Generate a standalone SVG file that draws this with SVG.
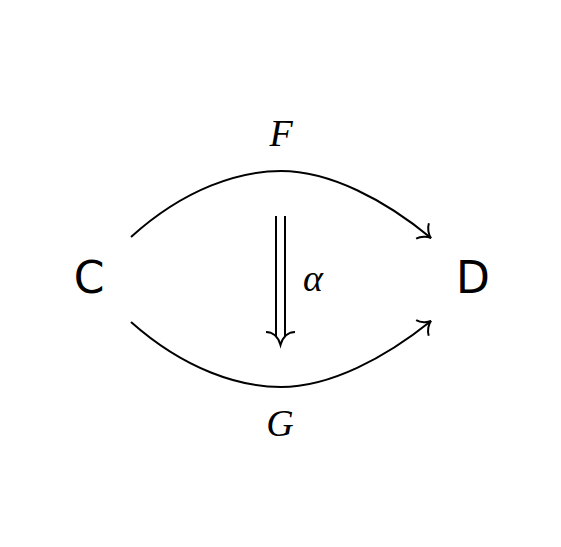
<svg xmlns="http://www.w3.org/2000/svg" width="561" height="547" viewBox="0 0 561 547">
<style>
.obj{font-family:"DejaVu Sans","Liberation Sans",sans-serif;font-size:44px;fill:#000;text-anchor:middle}
.lbl{font-family:"Liberation Serif","DejaVu Serif",serif;font-style:italic;font-size:38px;fill:#000;text-anchor:middle}
.ln{fill:none;stroke:#000;stroke-width:2}
</style>
<defs>
<marker id="to" viewBox="-14 -12 16 24" markerWidth="16" markerHeight="24" refX="0" refY="0" orient="auto" markerUnits="userSpaceOnUse">
<path d="M-11,-10 C-9,-5 -4,-1 0,0 C-4,1 -9,5 -11,10" fill="none" stroke="#000" stroke-width="2"/>
</marker>
</defs>
<rect width="561" height="547" fill="#fff"/>
<g id="node-C"><text class="obj" x="89" y="293">C</text></g>
<g id="node-D"><text class="obj" x="473" y="293">D</text></g>
<g id="connectors">
<path id="F" class="ln" d="M131,237 C185,188 240,171 281,171 C330,171 385,200 431,238" marker-end="url(#to)"/>
<path id="G" class="ln" d="M131,322 C185,370 240,387 281,387 C330,387 385,358 431,321" marker-end="url(#to)"/>
<g id="alpha">
<line class="ln" x1="276" y1="216" x2="276" y2="336"/>
<line class="ln" x1="285" y1="216" x2="285" y2="336"/>
<path class="ln" d="M266,332 C272,332 278,336 280.5,345 C283,336 289,332 295,332"/>
</g>
</g>
<g id="labels">
<text class="lbl" x="281" y="146">F</text>
<text class="lbl" x="313" y="291">α</text>
<text class="lbl" x="280" y="436">G</text>
</g>
</svg>
